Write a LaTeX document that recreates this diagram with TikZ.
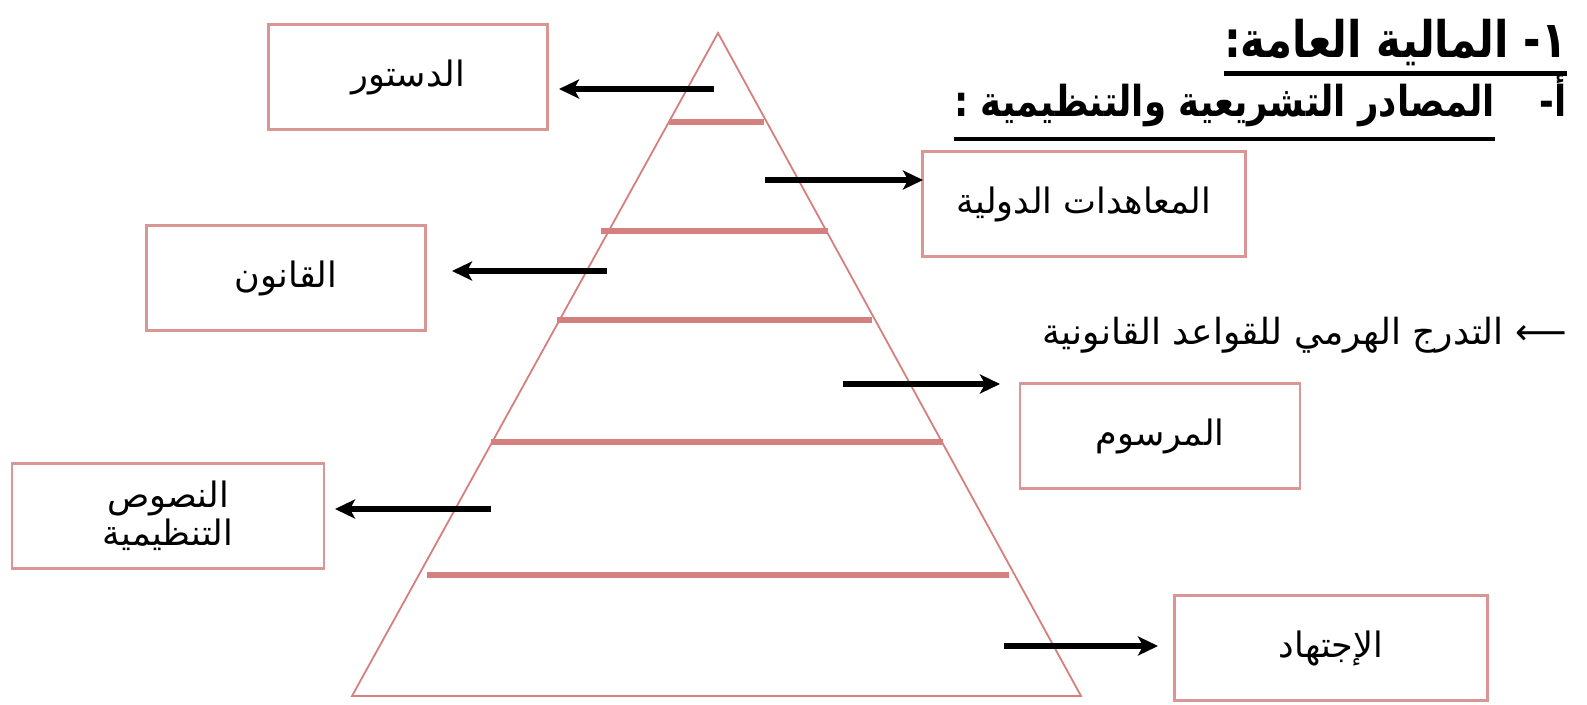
\documentclass[tikz,border=0pt]{standalone}
\usepackage{fontspec}
\setmainfont{DejaVu Sans}
\newfontfamily\arabicfont[Script=Arabic]{DejaVu Sans}
\TeXXeTstate=1
\usetikzlibrary{arrows.meta}
\definecolor{boxred}{HTML}{D99694}
\definecolor{pyrred}{HTML}{D4807E}
\begin{document}
\begin{tikzpicture}[x=1pt,y=-1pt,
  lbox/.style={draw=boxred, line width=2.2pt, minimum width=#1, minimum height=105pt,
    inner sep=0pt, font=\arabicfont\fontsize{35}{44}\selectfont, align=center},
  band/.style={draw=pyrred, line width=5.5pt},
  arr/.style={draw=black, line width=6pt, -{Stealth[length=20pt,width=19pt,inset=5pt]}},
  ttl/.style={inner sep=0pt, anchor=base east, font=\arabicfont\bfseries\fontsize{42}{50}\selectfont},
  sub/.style={inner sep=0pt, anchor=base east, font=\arabicfont\bfseries\fontsize{35.5}{40}\selectfont},
  mid/.style={inner sep=0pt, anchor=base east, font=\arabicfont\fontsize{36}{40}\selectfont}
]
\useasboundingbox[fill=white] (0,0) rectangle (1587,704);

% pyramid
\draw[pyrred, line width=1.8pt, line join=miter] (718,33) -- (1081,696) -- (352,696) -- cycle;
\draw[band] (669,122) -- (764,122);
\draw[band] (601,231) -- (828,231);
\draw[band] (557,320) -- (872,320);
\draw[band] (491,442) -- (943,442);
\draw[band] (427,575) -- (1009,575);

% boxes
\node[lbox=279pt] (b1) at (408,77) {\beginR الدستور\endR};
\node[lbox=323pt] (b2) at (1084,204) {\beginR المعاهدات الدولية\endR};
\node[lbox=279pt] (b3) at (286,278) {\beginR القانون\endR};
\node[lbox=280pt] (b4) at (1160,436) {\beginR المرسوم\endR};
\node[lbox=312pt] (b5) at (168,516) {\beginR النصوص\endR\\[-6pt]\beginR التنظيمية\endR};
\node[lbox=313pt] (b6) at (1331,648) {\beginR الإجتهاد\endR};

% arrows
\coordinate (s1) at (714,89);  \coordinate (t1) at (559,89);
\coordinate (s2) at (765,180); \coordinate (t2) at (923,180);
\coordinate (s3) at (607,271); \coordinate (t3) at (452,271);
\coordinate (s4) at (843,384); \coordinate (t4) at (1000,384);
\coordinate (s5) at (491,509); \coordinate (t5) at (335,509);
\coordinate (s6) at (1004,646); \coordinate (t6) at (1158,646);
\foreach \i in {1,...,6} {\draw[arr] (s\i) -- (t\i);}

% headings
\node[ttl] (title) at (1567,57) {\scalebox{1}[1.2]{\beginR ١- المالية العامة:\endR}};
\draw[line width=5pt] (title.west |- 0,73) -- (title.east |- 0,73);
\node[sub] (subA) at (1567,116) {\scalebox{1}[1.2]{\beginR أ-\endR}};
\node[sub] (subB) at (1495,116) {\scalebox{1}[1.2]{\beginR المصادر التشريعية والتنظيمية :\endR}};
\draw[line width=4pt] (subB.west |- 0,139) -- (subB.east |- 0,139);
\node[mid] (hier) at (1567,344) {\beginR ⟵ التدرج الهرمي للقواعد القانونية\endR};
\end{tikzpicture}
\end{document}
